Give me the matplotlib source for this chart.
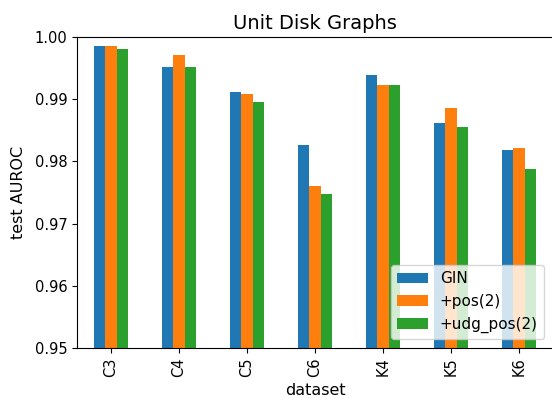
import numpy as np
import matplotlib
matplotlib.use("Agg")
import matplotlib.pyplot as plt

datasets = ["C3", "C4", "C5", "C6", "K4", "K5", "K6"]
gin = [0.9985, 0.9952, 0.9912, 0.9827, 0.9939, 0.9861, 0.9818]
pos2 = [0.9985, 0.9971, 0.9909, 0.9760, 0.9923, 0.9886, 0.9822]
udg_pos2 = [0.9980, 0.9952, 0.9896, 0.9747, 0.9923, 0.9856, 0.9787]

series = [("GIN", gin, "#1f77b4"),
          ("+pos(2)", pos2, "#ff7f0e"),
          ("+udg_pos(2)", udg_pos2, "#2ca02c")]

fig = plt.figure(figsize=(5.52, 3.98), dpi=100)
ax = fig.add_axes([77 / 552, 50 / 398, 476 / 552, 311 / 398])

x = np.arange(len(datasets))
w = 0.5 / 3
for i, (name, vals, col) in enumerate(series):
    ax.bar(x + (i - 1) * w, vals, width=w, color=col, label=name)

ax.set_xlim(-0.5, len(datasets) - 0.5)
ax.set_ylim(0.95, 1.0)
ax.set_xticks(x)
ax.set_xticklabels(datasets, rotation=90)
ax.set_yticks([0.95, 0.96, 0.97, 0.98, 0.99, 1.00])
ax.set_yticklabels(["0.95", "0.96", "0.97", "0.98", "0.99", "1.00"])
ax.tick_params(labelsize=10.5)
ax.set_xlabel("dataset", fontsize=11.5)
ax.set_ylabel("test AUROC", fontsize=11.5, labelpad=6)
ax.set_title("Unit Disk Graphs", fontsize=14)
ax.legend(loc="lower right", fontsize=11, borderaxespad=0.6)

fig.savefig("out.png", dpi=100)
